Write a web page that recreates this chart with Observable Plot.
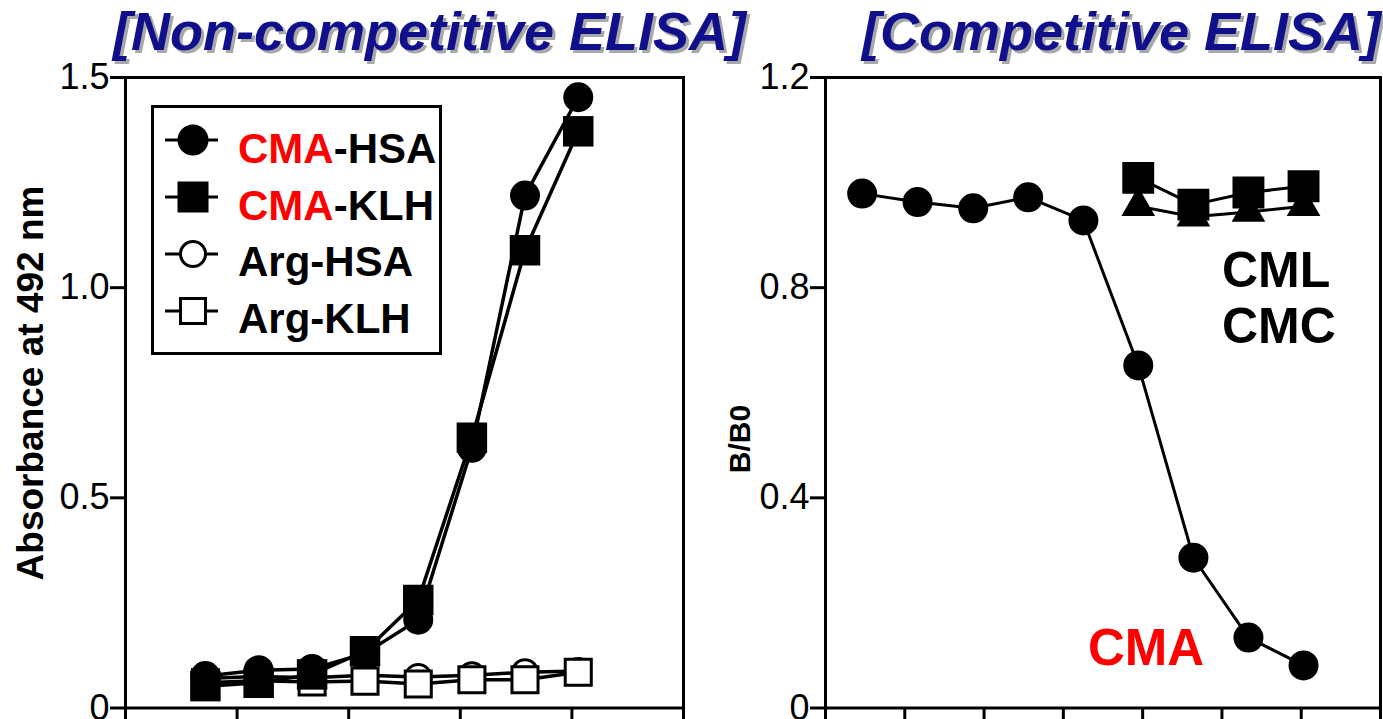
<!DOCTYPE html>
<html><head><meta charset="utf-8">
<script src="https://cdn.jsdelivr.net/npm/d3@7"></script>
<script src="https://cdn.jsdelivr.net/npm/@observablehq/plot@0.6"></script>
<style>
html,body{margin:0;padding:0;overflow:hidden;background:#fff;}
#wrap{position:relative;width:1383px;height:719px;overflow:hidden;font-family:"Liberation Sans",Arial,sans-serif;color:#000;}
.title{position:absolute;font-weight:bold;font-style:italic;font-size:54px;line-height:54px;color:#10108c;text-shadow:3px 3px 0 #a8a8a8;white-space:nowrap;}
.pl{position:absolute;top:0;}
.ylab{position:absolute;font-weight:bold;white-space:nowrap;line-height:1;transform:translate(-50%,-50%) rotate(-90deg);}
.legbox{position:absolute;left:151px;top:105px;width:291px;height:250px;box-sizing:border-box;border:3px solid #000;}
.legtxt{position:absolute;font-weight:bold;font-size:42px;line-height:42px;white-space:nowrap;}
.ann{position:absolute;font-weight:bold;white-space:nowrap;}
</style></head>
<body><div id="wrap"></div>
<script>
// ---------- data ----------
const leftConc = [0.0052, 0.0156, 0.047, 0.14, 0.42, 1.27, 3.8, 11.4];
const cmaHSA = [0.076, 0.09, 0.093, 0.13, 0.21, 0.619, 1.219, 1.453];
const cmaKLH = [0.052, 0.06, 0.08, 0.135, 0.257, 0.643, 1.089, 1.372];
const argHSA = [0.07, 0.075, 0.072, 0.078, 0.074, 0.078, 0.085, 0.088];
const argKLH = [0.06, 0.065, 0.062, 0.064, 0.057, 0.067, 0.067, 0.085];
const leftXTicks = [0.001, 0.01, 0.1, 1, 10, 100];
const leftYTicks = [0, 0.5, 1.0, 1.5];

const rightConc = [0.029, 0.145, 0.73, 3.6, 17.9, 88, 437, 2160, 10700];
const cmaComp = [0.979, 0.963, 0.951, 0.972, 0.928, 0.652, 0.286, 0.134, 0.081];
const otherConc = [88, 437, 2160, 10700];
const cmlComp = [1.009, 0.958, 0.981, 0.993];
const cmcComp = [0.955, 0.935, 0.944, 0.955];
const rightXTicks = [0.01, 0.1, 1, 10, 100, 1000, 10000, 100000];
const rightYTicks = [0, 0.4, 0.8, 1.2];

const legendItems = [
  {red: "CMA", black: "-HSA", symbol: "circle", fill: "black"},
  {red: "CMA", black: "-KLH", symbol: "square", fill: "black"},
  {red: "", black: "Arg-HSA", symbol: "circle", fill: "white"},
  {red: "", black: "Arg-KLH", symbol: "square", fill: "white"}
];

const rows = (xs, ys) => xs.map((x, i) => ({x, y: ys[i]}));
const fmtY = d => d === 0 ? "0" : d3.format(".1f")(d);
const wrap = document.getElementById("wrap");
const font = "'Liberation Sans', Arial, sans-serif";

// ---------- left panel ----------
const left = Plot.plot({
  width: 700, height: 719,
  marginLeft: 125, marginRight: 17, marginTop: 77, marginBottom: 11.5,
  x: {type: "log", domain: [0.001, 100], label: null},
  y: {domain: [0, 1.5], label: null},
  style: {fontFamily: font, overflow: "visible", background: "transparent", color: "#000"},
  marks: [
    Plot.axisX({ticks: leftXTicks, tickSize: 15, strokeWidth: 3, tickFormat: () => "", label: null}),
    Plot.axisY({ticks: leftYTicks, tickSize: 15, tickPadding: 1, strokeWidth: 3, fontSize: 36, tickFormat: fmtY, label: null}),
    Plot.frame({strokeWidth: 3}),
    Plot.line(rows(leftConc, argHSA), {x: "x", y: "y", stroke: "black", strokeWidth: 3.5}),
    Plot.dot(rows(leftConc, argHSA), {x: "x", y: "y", symbol: "circle", r: 12.5, fill: "white", stroke: "black", strokeWidth: 3}),
    Plot.line(rows(leftConc, argKLH), {x: "x", y: "y", stroke: "black", strokeWidth: 3.5}),
    Plot.dot(rows(leftConc, argKLH), {x: "x", y: "y", symbol: "square", r: 14.7, fill: "white", stroke: "black", strokeWidth: 3}),
    Plot.line(rows(leftConc, cmaHSA), {x: "x", y: "y", stroke: "black", strokeWidth: 3.5}),
    Plot.dot(rows(leftConc, cmaHSA), {x: "x", y: "y", symbol: "circle", r: 15, fill: "black"}),
    Plot.line(rows(leftConc, cmaKLH), {x: "x", y: "y", stroke: "black", strokeWidth: 3.5}),
    Plot.dot(rows(leftConc, cmaKLH), {x: "x", y: "y", symbol: "square", r: 17.2, fill: "black"})
  ]
});
left.classList.add("pl"); left.style.left = "0px";
wrap.appendChild(left);

// ---------- right panel ----------
const right = Plot.plot({
  width: 683, height: 719,
  marginLeft: 125, marginRight: 3, marginTop: 77, marginBottom: 11.5,
  x: {type: "log", domain: [0.01, 100000], label: null},
  y: {domain: [0, 1.2], label: null},
  style: {fontFamily: font, overflow: "visible", background: "transparent", color: "#000"},
  marks: [
    Plot.axisX({ticks: rightXTicks, tickSize: 15, strokeWidth: 3, tickFormat: () => "", label: null}),
    Plot.axisY({ticks: rightYTicks, tickSize: 15, tickPadding: 1, strokeWidth: 3, fontSize: 36, tickFormat: fmtY, label: null}),
    Plot.frame({strokeWidth: 3}),
    Plot.line(rows(otherConc, cmcComp), {x: "x", y: "y", stroke: "black", strokeWidth: 3}),
    Plot.dot(rows(otherConc, cmcComp), {x: "x", y: "y", symbol: "triangle", r: 12.5, fill: "black"}),
    Plot.line(rows(otherConc, cmlComp), {x: "x", y: "y", stroke: "black", strokeWidth: 3}),
    Plot.dot(rows(otherConc, cmlComp), {x: "x", y: "y", symbol: "square", r: 18, fill: "black"}),
    Plot.line(rows(rightConc, cmaComp), {x: "x", y: "y", stroke: "black", strokeWidth: 3}),
    Plot.dot(rows(rightConc, cmaComp), {x: "x", y: "y", symbol: "circle", r: 15, fill: "black"})
  ]
});
right.classList.add("pl"); right.style.left = "700px";
wrap.appendChild(right);

// ---------- titles ----------
function addDiv(cls, text, css) {
  const d = document.createElement("div");
  d.className = cls; d.textContent = text;
  Object.assign(d.style, css);
  wrap.appendChild(d);
  return d;
}
addDiv("title", "[Non-competitive ELISA]", {left: "113px", top: "4px"});
addDiv("title", "[Competitive ELISA]", {left: "862px", top: "4px"});

// ---------- axis labels ----------
addDiv("ylab", "Absorbance at 492 nm", {left: "30px", top: "383px", fontSize: "37px"});
addDiv("ylab", "B/B0", {left: "740px", top: "439px", fontSize: "30px"});

// ---------- legend ----------
const box = document.createElement("div"); box.className = "legbox"; wrap.appendChild(box);
const legSvg = d3.select(wrap).append("svg")
  .attr("width", 1383).attr("height", 719)
  .style("position", "absolute").style("left", "0px").style("top", "0px").style("pointer-events", "none");
const symCenters = [140, 197, 254, 311];
const txtTops = [127.5, 184.5, 240.5, 297.5];
legendItems.forEach((it, i) => {
  const cy = symCenters[i];
  legSvg.append("line").attr("x1", 165).attr("x2", 218).attr("y1", cy).attr("y2", cy)
    .attr("stroke", "black").attr("stroke-width", 3);
  const open = it.fill === "white";
  if (it.symbol === "circle") {
    legSvg.append("circle").attr("cx", 193).attr("cy", cy).attr("r", open ? 12.5 : 15.5)
      .attr("fill", it.fill).attr("stroke", open ? "black" : "none").attr("stroke-width", 3);
  } else {
    const s = open ? 25 : 31;
    legSvg.append("rect").attr("x", 193 - s / 2).attr("y", cy - s / 2).attr("width", s).attr("height", s)
      .attr("fill", it.fill).attr("stroke", open ? "black" : "none").attr("stroke-width", 3);
  }
  const t = document.createElement("div");
  t.className = "legtxt";
  t.style.left = "238px"; t.style.top = txtTops[i] + "px";
  if (it.red) { const r = document.createElement("span"); r.style.color = "#ff0000"; r.textContent = it.red; t.appendChild(r); }
  t.appendChild(document.createTextNode(it.black));
  wrap.appendChild(t);
});

// ---------- annotations ----------
addDiv("ann", "CML", {left: "1222px", top: "245px", fontSize: "50px", lineHeight: "50px"});
addDiv("ann", "CMC", {left: "1222px", top: "301px", fontSize: "50px", lineHeight: "50px"});
addDiv("ann", "CMA", {left: "1088px", top: "622px", fontSize: "51px", lineHeight: "51px", color: "#ff0000"});
</script>
</body></html>
